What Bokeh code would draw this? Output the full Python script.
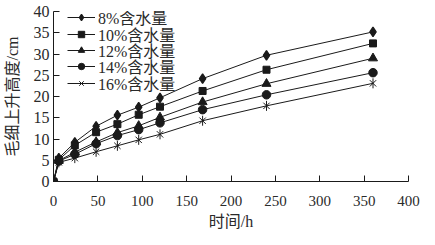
import math
from bokeh.plotting import figure
from bokeh.models import Legend, LegendItem, FixedTicker
from bokeh.embed import file_html
from bokeh.resources import INLINE

hours = [0, 6, 24, 48, 72, 96, 120, 168, 240, 360]
s8 = [0, 5.5, 9.2, 13.0, 15.6, 17.5, 19.7, 24.2, 29.7, 35.2]
s10 = [0, 5.1, 8.5, 11.6, 13.5, 15.7, 17.6, 21.3, 26.3, 32.5]
s12 = [0, 4.9, 6.9, 9.3, 11.5, 13.1, 15.1, 18.7, 23.0, 29.0]
s14 = [0, 4.8, 6.4, 8.9, 10.8, 12.2, 13.8, 16.9, 20.4, 25.6]
s16 = [0, 4.5, 5.5, 7.0, 8.4, 9.8, 11.1, 14.3, 17.8, 23.1]
labels = ["8%含水量", "10%含水量", "12%含水量", "14%含水量", "16%含水量"]
x_ticks = [0, 50, 100, 150, 200, 250, 300, 350, 400]
y_ticks = [0, 5, 10, 15, 20, 25, 30, 35, 40]

FONT = "Liberation Serif, Noto Sans CJK SC"
INK = "#1a1a1a"
TXT = "#2a2a2a"

p = figure(width=430, height=240, x_range=(0, 400), y_range=(0, 40),
           output_backend="svg", toolbar_location=None,
           min_border_left=53, min_border_right=22, min_border_top=11, min_border_bottom=59)
p.outline_line_color = None
p.xgrid.visible = False
p.ygrid.visible = False
p.background_fill_color = "white"

for ax, ticks in ((p.xaxis[0], x_ticks), (p.yaxis[0], y_ticks)):
    ax.ticker = FixedTicker(ticks=ticks)
    ax.major_tick_in = 6
    ax.major_tick_out = 0
    ax.minor_tick_line_color = None
    ax.axis_line_color = INK
    ax.major_tick_line_color = INK
    ax.major_label_text_font = FONT
    ax.major_label_text_color = TXT
    ax.axis_label_text_font = FONT
    ax.axis_label_text_font_size = "16px"
    ax.axis_label_text_font_style = "normal"
    ax.axis_label_text_color = TXT

p.xaxis.major_label_text_font_size = "15px"
p.yaxis.major_label_text_font_size = "16px"
p.xaxis.axis_label = "时间/h"
p.yaxis.axis_label = "毛细上升高度/cm"
p.xaxis.major_label_standoff = 14
p.yaxis.major_label_standoff = 4
p.xaxis.axis_label_standoff = 4
p.yaxis.axis_label_standoff = 10

series = [s8, s10, s12, s14, s16]
for i, (ys, lab) in enumerate(zip(series, labels)):
    line = p.line(hours, ys, line_color=INK, line_width=1)
    rs = [line]
    if i == 0:
        rs.append(p.scatter(hours, ys, marker="diamond", size=9.5, line_width=1.3,
                            fill_color=INK, line_color=INK))
    elif i == 1:
        rs.append(p.scatter(hours, ys, marker="square", size=7, fill_color=INK, line_color=INK))
    elif i == 2:
        rs.append(p.scatter(hours, ys, marker="triangle", size=9, fill_color=INK, line_color=INK))
    elif i == 3:
        rs.append(p.scatter(hours, ys, marker="circle", size=8.5, fill_color=INK, line_color=INK))
    else:
        rs.append(p.scatter(hours, ys, marker="x", size=9, line_color=INK, line_width=1))
        rs.append(p.scatter(hours, ys, marker="dash", size=10, angle=math.pi / 2,
                            line_color=INK, line_width=1))
    leg = Legend(items=[LegendItem(label=lab, renderers=rs)],
                 location=(14, round(151.6 - 16.3 * i)), padding=0, margin=0, spacing=0,
                 glyph_width=28, glyph_height=16, label_height=16, label_standoff=3,
                 label_text_font=FONT, label_text_font_size="16px", label_text_color=TXT,
                 border_line_color=None, background_fill_alpha=0)
    p.add_layout(leg, "center")

open("out.html", "w").write(file_html(p, INLINE))
